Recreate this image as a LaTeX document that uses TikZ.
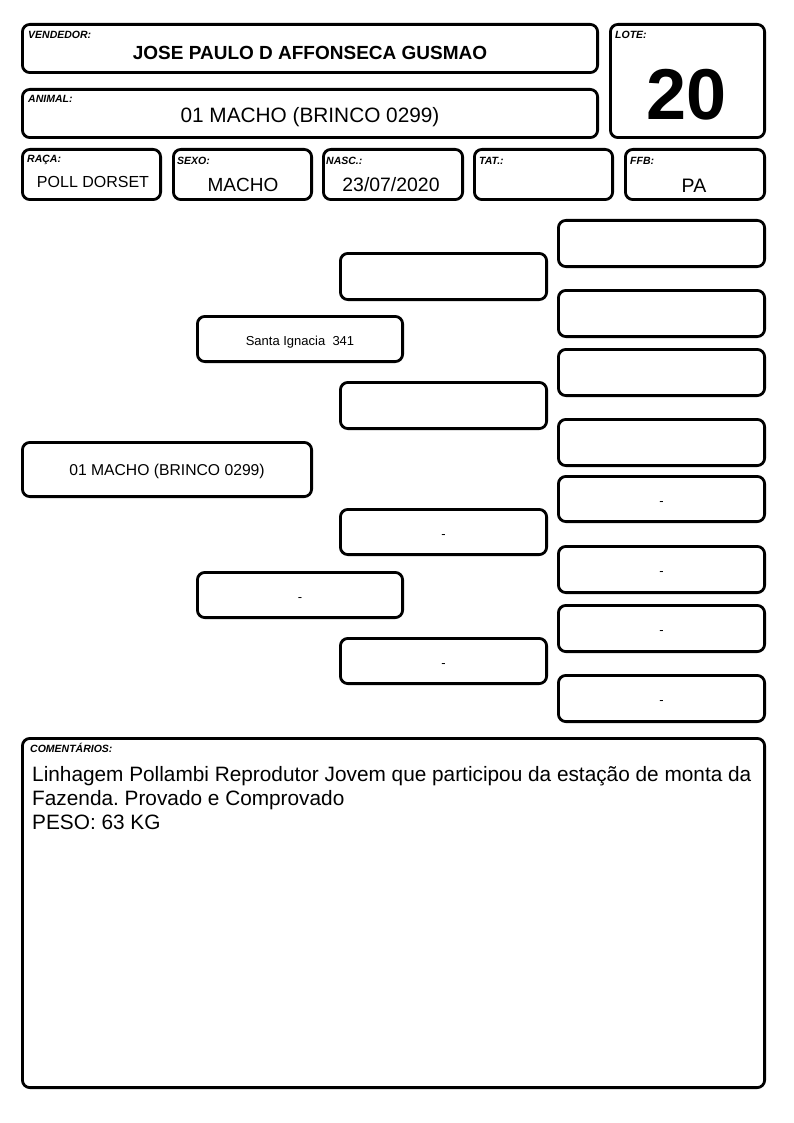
\documentclass[tikz,border=0pt]{standalone}
\usepackage{fontspec}
\setmainfont{Liberation Sans}
\frenchspacing
\newcommand\fs[1]{\fontsize{#1}{#1}\selectfont}
\newcommand\mybox[7]{\node[box, minimum width={#4-#2-2.8}, minimum height={#5-#3-2.8}, font=\fs{#7}] (#1) at ({(#2+#4)/2},{(#3+#5)/2}) {#6};}
\begin{document}
\begin{tikzpicture}[x=1pt,y=-1pt,
  box/.style={draw, line width=2.8pt, rounded corners=7.5pt, inner sep=0pt, text height=12pt, text depth=0pt},
  lbl/.style={font=\fs{10.5}\bfseries\itshape, anchor=base west, inner sep=0pt},
  val/.style={anchor=base, inner sep=0pt},
  com/.style={anchor=base west, inner sep=0pt, font=\fs{20.8}}]
\useasboundingbox (0,0) rectangle (794,1123);
% header boxes
\mybox{vend}{21}{23}{599}{74}{}{10}
\mybox{lote}{609}{23}{766}{139}{}{10}
\mybox{anim}{21}{88}{599}{139}{}{10}
\mybox{raca}{21}{148}{162}{201}{}{10}
\mybox{sexo}{172}{148}{313}{201}{}{10}
\mybox{nasc}{322}{148}{464}{201}{}{10}
\mybox{tat}{473}{148}{614}{201}{}{10}
\mybox{ffb}{624}{148}{766}{201}{}{10}
% labels
\node[lbl] (Lvend) at (28,39) {VENDEDOR:};
\node[lbl] (Llote) at (615,39) {LOTE:};
\node[lbl] (Lanim) at (28,103) {ANIMAL:};
\node[lbl] (Lraca) at (27,163) {RAÇA:};
\node[lbl] (Lsexo) at (177,165) {SEXO:};
\node[lbl] (Lnasc) at (326,165) {NASC.:};
\node[lbl] (Ltat) at (479,165) {TAT.:};
\node[lbl] (Lffb) at (630,165) {FFB:};
% values
\node[val, font=\fs{19}\bfseries] (Vvend) at (310,60) {JOSE PAULO D AFFONSECA GUSMAO};
\node[val, font=\fs{72}\bfseries] (Vlote) at (687,120) {20};
\node[val, font=\fs{20.8}] (Vanim) at (310,123) {01 MACHO (BRINCO 0299)};
\node[val, font=\fs{16}] (Vraca) at (93,188) {POLL DORSET};
\node[val, font=\fs{19}] (Vsexo) at (243,192) {MACHO};
\node[val, font=\fs{19.4}] (Vnasc) at (391,192) {23/07/2020};
\node[val, font=\fs{19.5}] (Vffb) at (694,193) {PA};
% pedigree
\mybox{p0}{21}{441}{313}{498}{01 MACHO (BRINCO 0299)}{15.7}
\mybox{s}{196}{315}{404}{363}{Santa Ignacia\ \ 341}{13}
\mybox{d}{196}{571}{404}{619}{-}{13}
\mybox{ss}{339}{252}{548}{301}{}{13}
\mybox{sd}{339}{381}{548}{430}{}{13}
\mybox{ds}{339}{508}{548}{556}{-}{13}
\mybox{dd}{339}{637}{548}{685}{-}{13}
\mybox{sss}{557}{219}{766}{268}{}{13}
\mybox{ssd}{557}{289}{766}{338}{}{13}
\mybox{sds}{557}{348}{766}{397}{}{13}
\mybox{sdd}{557}{418}{766}{467}{}{13}
\mybox{dss}{557}{475}{766}{523}{-}{13}
\mybox{dsd}{557}{545}{766}{594}{-}{13}
\mybox{dds}{557}{604}{766}{653}{-}{13}
\mybox{ddd}{557}{674}{766}{723}{-}{13}
% comments
\mybox{coment}{21}{737}{766}{1089}{}{10}
\node[lbl] (Lcom) at (30,752) {COMENTÁRIOS:};
\node[com] (c1) at (32,781) {Linhagem Pollambi Reprodutor Jovem que participou da estação de monta da};
\node[com] (c2) at (32,805) {Fazenda. Provado e Comprovado};
\node[com] (c3) at (32,829) {PESO: 63 KG};
\end{tikzpicture}
\end{document}
